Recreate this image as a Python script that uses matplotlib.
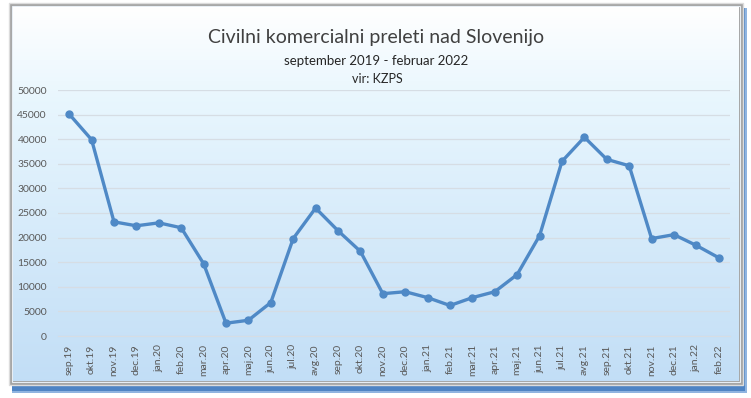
import numpy as np
import matplotlib
matplotlib.use("Agg")
import matplotlib.pyplot as plt
from matplotlib.patches import Rectangle

months = ["sep.19", "okt.19", "nov.19", "dec.19", "jan.20", "feb.20", "mar.20", "apr.20",
          "maj.20", "jun.20", "jul.20", "avg.20", "sep.20", "okt.20", "nov.20", "dec.20",
          "jan.21", "feb.21", "mar.21", "apr.21", "maj.21", "jun.21", "jul.21", "avg.21",
          "sep.21", "okt.21", "nov.21", "dec.21", "jan.22", "feb.22"]
flights = [45100, 39900, 23200, 22400, 23000, 22000, 14700, 2600,
           3200, 6800, 19800, 26000, 21400, 17200, 8600, 9000,
           7800, 6200, 7800, 9000, 12500, 20400, 35500, 40400,
           35900, 34600, 19800, 20600, 18400, 15900]
y_ticks = [0, 5000, 10000, 15000, 20000, 25000, 30000, 35000, 40000, 45000, 50000]

title = "Civilni komercialni preleti nad Slovenijo"
subtitle = "september 2019 - februar 2022"
source = "vir: KZPS"

W, H = 751, 398
plt.rcParams['font.family'] = ['Lato', 'DejaVu Sans']
fig = plt.figure(figsize=(W / 100, H / 100), dpi=100)
fig.patch.set_facecolor("white")

def fx(x):
    return x / W

def fy(y):
    return 1 - y / H

# background axes in pixel coordinates (y downward)
bg = fig.add_axes([0, 0, 1, 1], zorder=-1)
bg.set_axis_off()
# shadow
bg.add_patch(Rectangle((12, 8), 735, 385, facecolor="#8fb4e0", edgecolor="none", zorder=0))
bg.add_patch(Rectangle((12, 8), 733, 383, facecolor="#4f84c4", edgecolor="none", zorder=0.5))
# frame
bg.add_patch(Rectangle((9, 3), 734, 382, facecolor="#a4a4a4", edgecolor="#dcdcdc",
                       linewidth=1.0, zorder=1))
bg.add_patch(Rectangle((12, 6), 728, 376, facecolor="none", edgecolor="#e8eef4",
                       linewidth=0.8, zorder=1.5))
top = np.array([1.0, 1.0, 1.0])
mid = np.array([0.91, 0.965, 0.995])
bot = np.array([0.76, 0.87, 0.965])
t = np.linspace(0, 1, 256)[:, None]
grad = np.where(t < 0.25, top + (mid - top) * (t / 0.25), mid + (bot - mid) * ((t - 0.25) / 0.75))
bg.imshow(grad[:, None, :].repeat(2, axis=1), aspect="auto", extent=[13, 739, 381, 7],
          interpolation="bilinear", zorder=2)
bg.set_xlim(0, W)
bg.set_ylim(H, 0)

ax = fig.add_axes([fx(58), fy(336), fx(730) - fx(58), fy(90) - fy(336)], zorder=1)
ax.set_facecolor("none")
x = np.arange(len(months))
ax.plot(x, flights, color="#4f89c6", linewidth=2.4, marker="o", markersize=5,
        markerfacecolor="#4f89c6", markeredgecolor="#4f89c6", zorder=3)
ax.set_xlim(-0.5, len(months) - 0.5)
ax.set_ylim(0, 50000)
ax.set_yticks(y_ticks)
ax.set_yticklabels([str(v) for v in y_ticks])
ax.set_xticks(x)
ax.set_xticklabels(months, rotation=90)
ax.grid(axis="y", color="#d6dde4", linewidth=0.9)
ax.set_axisbelow(True)
for s in ["top", "right", "left"]:
    ax.spines[s].set_visible(False)
ax.spines["bottom"].set_color("#d6dde4")
ax.tick_params(axis="both", length=0, colors="#595959", labelsize=7.5)
ax.tick_params(axis="y", pad=8)
ax.tick_params(axis="x", pad=6)

fig.text(fx(376), fy(38), title, ha="center", va="center", fontsize=14, color="#404040")
fig.text(fx(376), fy(61), subtitle, ha="center", va="center", fontsize=9.5, color="#262626")
fig.text(fx(377), fy(79), source, ha="center", va="center", fontsize=9, color="#262626")

fig.savefig("out.png", dpi=100)
